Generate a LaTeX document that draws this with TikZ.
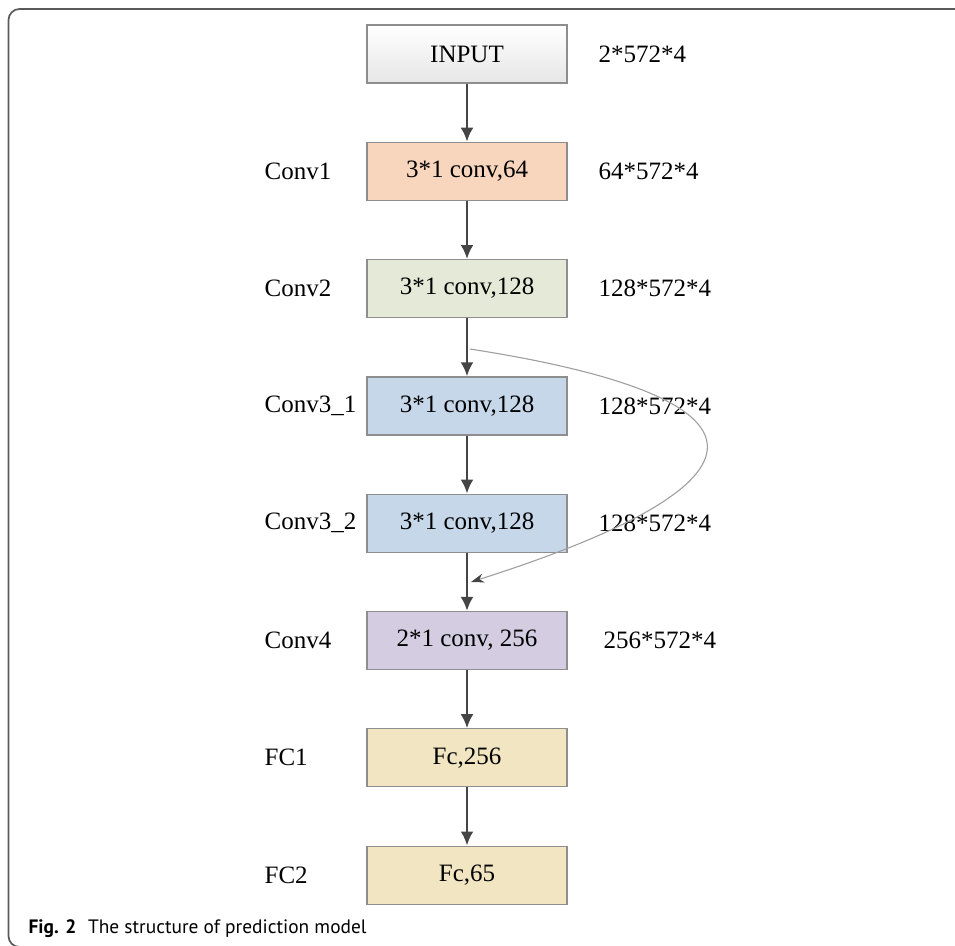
\documentclass[tikz,border=0pt]{standalone}
\usepackage{fontspec}
\setmainfont{Liberation Serif}
\newfontfamily\capfont{PT Sans}
\usetikzlibrary{arrows.meta,positioning}
\definecolor{arrowgray}{HTML}{454545}
\definecolor{boxgray}{HTML}{8E8E8E}
\definecolor{framegray}{HTML}{5A5A5A}
\definecolor{inputgray}{HTML}{E6E6E6}
\definecolor{convA}{HTML}{F8D6BD}
\definecolor{convB}{HTML}{E4EAD7}
\definecolor{convC}{HTML}{C6D7E9}
\definecolor{convD}{HTML}{D4CDE1}
\definecolor{fcbox}{HTML}{F1E5C2}

\begin{document}
\begin{tikzpicture}[x=1pt, y=-1pt, node distance=58.1pt, -{Latex[length=14pt,width=13pt]}, line width=2.6pt, color=arrowgray,
        every node/.append style={font=\fontsize{25}{30}\selectfont, text=black},
        layer/.style={draw=boxgray, line width=1.2pt, minimum width=200pt, minimum height=58pt, inner sep=0pt}]
      \tikzstyle{lbl} = [anchor=west]
      \useasboundingbox (0,0) rectangle (955,945);
      \draw[-, framegray, line width=1.7pt, rounded corners=11pt] (8.5,9) rectangle (980,947);
      \coordinate (lblx) at (260,0);
      \coordinate (dimx) at (594,0);
      \node (input) [layer, top color=white, bottom color=inputgray] at (467,54) {INPUT};
      \node (conv1) [layer, fill=convA, below=of input] {3*1 conv,64};
      \node (conv2) [layer, fill=convB, below=of conv1] {3*1 conv,128};
      \node (conv31) [layer, fill=convC, below=of conv2] {3*1 conv,128};
      \node (conv32) [layer, fill=convC, below=of conv31] {3*1 conv,128};
      \node (conv4) [layer, fill=convD, below=of conv32] {2*1 conv, 256};
      \node (fc1) [layer, fill=fcbox, below=of conv4] {Fc,256};
      \node (fc2) [layer, fill=fcbox, below=of fc1] {Fc,65};
      % layer names
      \node [lbl] at (conv1 -| lblx) {Conv1};
      \node [lbl] at (conv2 -| lblx) {Conv2};
      \node [lbl] at (conv31 -| lblx) {Conv3\_1};
      \node [lbl] at (conv32 -| lblx) {Conv3\_2};
      \node [lbl] at (conv4 -| lblx) {Conv4};
      \node [lbl] at (fc1 -| lblx) {FC1};
      \node [lbl] at (fc2 -| lblx) {FC2};
      % output sizes
      \node [lbl] at (input -| dimx) {2*572*4};
      \node [lbl] at (conv1 -| dimx) {64*572*4};
      \node [lbl] at (conv2 -| dimx) {128*572*4};
      \node [lbl] at (conv31 -| dimx) {128*572*4};
      \node [lbl] at (conv32 -| dimx) {128*572*4};
      \node [lbl, xshift=5pt] at (conv4 -| dimx) {256*572*4};
      \foreach \a/\b in {input/conv1, conv1/conv2, conv2/conv31, conv31/conv32, conv32/conv4, conv4/fc1, fc1/fc2}
        \draw (\a) -- (\b);
      % skip connection
      \coordinate (skipS) at (470,349);
      \coordinate (skipE) at (471,582);
      \draw[line width=1.1pt, color=gray!75, -{Stealth[length=13pt,width=9pt,color=arrowgray]}]
        (skipS) .. controls (785,398) and (785,482) .. (skipE);
      \node (caption) [anchor=base west, font=\capfont\fontsize{19.4}{24}\selectfont] at (24,933)
        {\textbf{Fig. 2}\hspace{0.6em}The structure of prediction model};
\end{tikzpicture}
\end{document}
